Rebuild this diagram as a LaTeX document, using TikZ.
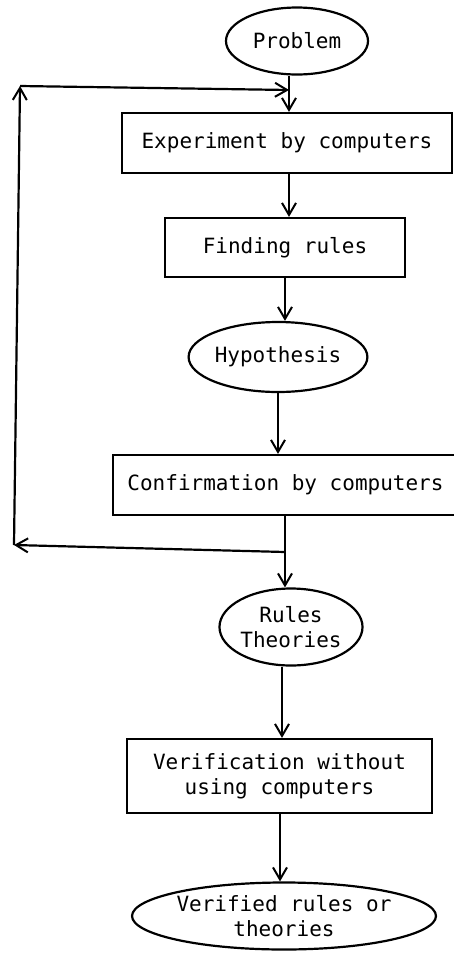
\documentclass[tikz,border=0pt]{standalone}
\usepackage{fontspec}
\setmonofont{DejaVu Sans Mono}
\usepackage{tikz}
\usetikzlibrary{arrows.meta,calc,positioning,shapes.geometric}

\begin{document}
\begin{tikzpicture}[x=1pt,y=-1pt,line width=2.2pt,
  every node/.style={font=\ttfamily\fontsize{21}{25}\selectfont,align=center,inner sep=0pt},
  stepbox/.style={draw,rectangle},
  oval/.style={draw,ellipse},
  arr/.style={-{Straight Barb[length=12pt,width=14pt,line width=2pt]}}]
\useasboundingbox (0,0) rectangle (454,970);
\node[oval,minimum width=142,minimum height=67] (prob) at (297,41) {Problem};
\node[stepbox,minimum width=330,minimum height=60] (exp) at (287,143) {Experiment by computers};
\node[stepbox,minimum width=240,minimum height=59] (find) at (285,247.5) {Finding rules};
\node[oval,minimum width=163,minimum height=70] (hyp) at (278,357) {Hypothesis};
\node[stepbox,minimum width=345,minimum height=60] (conf) at (285.5,485) {Confirmation by computers};
\node[oval,minimum width=137,minimum height=77] (rules) at (291,627) {Rules\\Theories};
\node[stepbox,minimum width=305,minimum height=74] (verif) at (279.5,776) {Verification without\\ using computers};
\node[oval,minimum width=255,minimum height=67] (vrul) at (284,916) {Verified rules or\\theories};
\coordinate (jtop) at (289,90);
\coordinate (jbot) at (285,552);
\coordinate (lbot) at (14,545);
\coordinate (ltop) at (20,86);
\draw[arr] (prob.south -| jtop) -- (exp.north -| jtop);
\draw[arr] (exp.south -| jtop) -- (find.north -| jtop);
\draw[arr] (find.south) -- (find.south |- hyp.north);
\draw[arr] (hyp.south) -- (hyp.south |- conf.north);
\draw[arr] (conf.south -| jbot) -- (rules.north -| jbot);
\draw[arr] (rules.south -| 282,0) -- (verif.north -| 282,0);
\draw[arr] (verif.south -| 280,0) -- (vrul.north -| 280,0);
% feedback loop
\draw[arr] (jbot) -- (lbot);
\draw[arr] (lbot) -- (ltop);
\draw[arr] (ltop) -- (jtop);
\end{tikzpicture}
\end{document}
